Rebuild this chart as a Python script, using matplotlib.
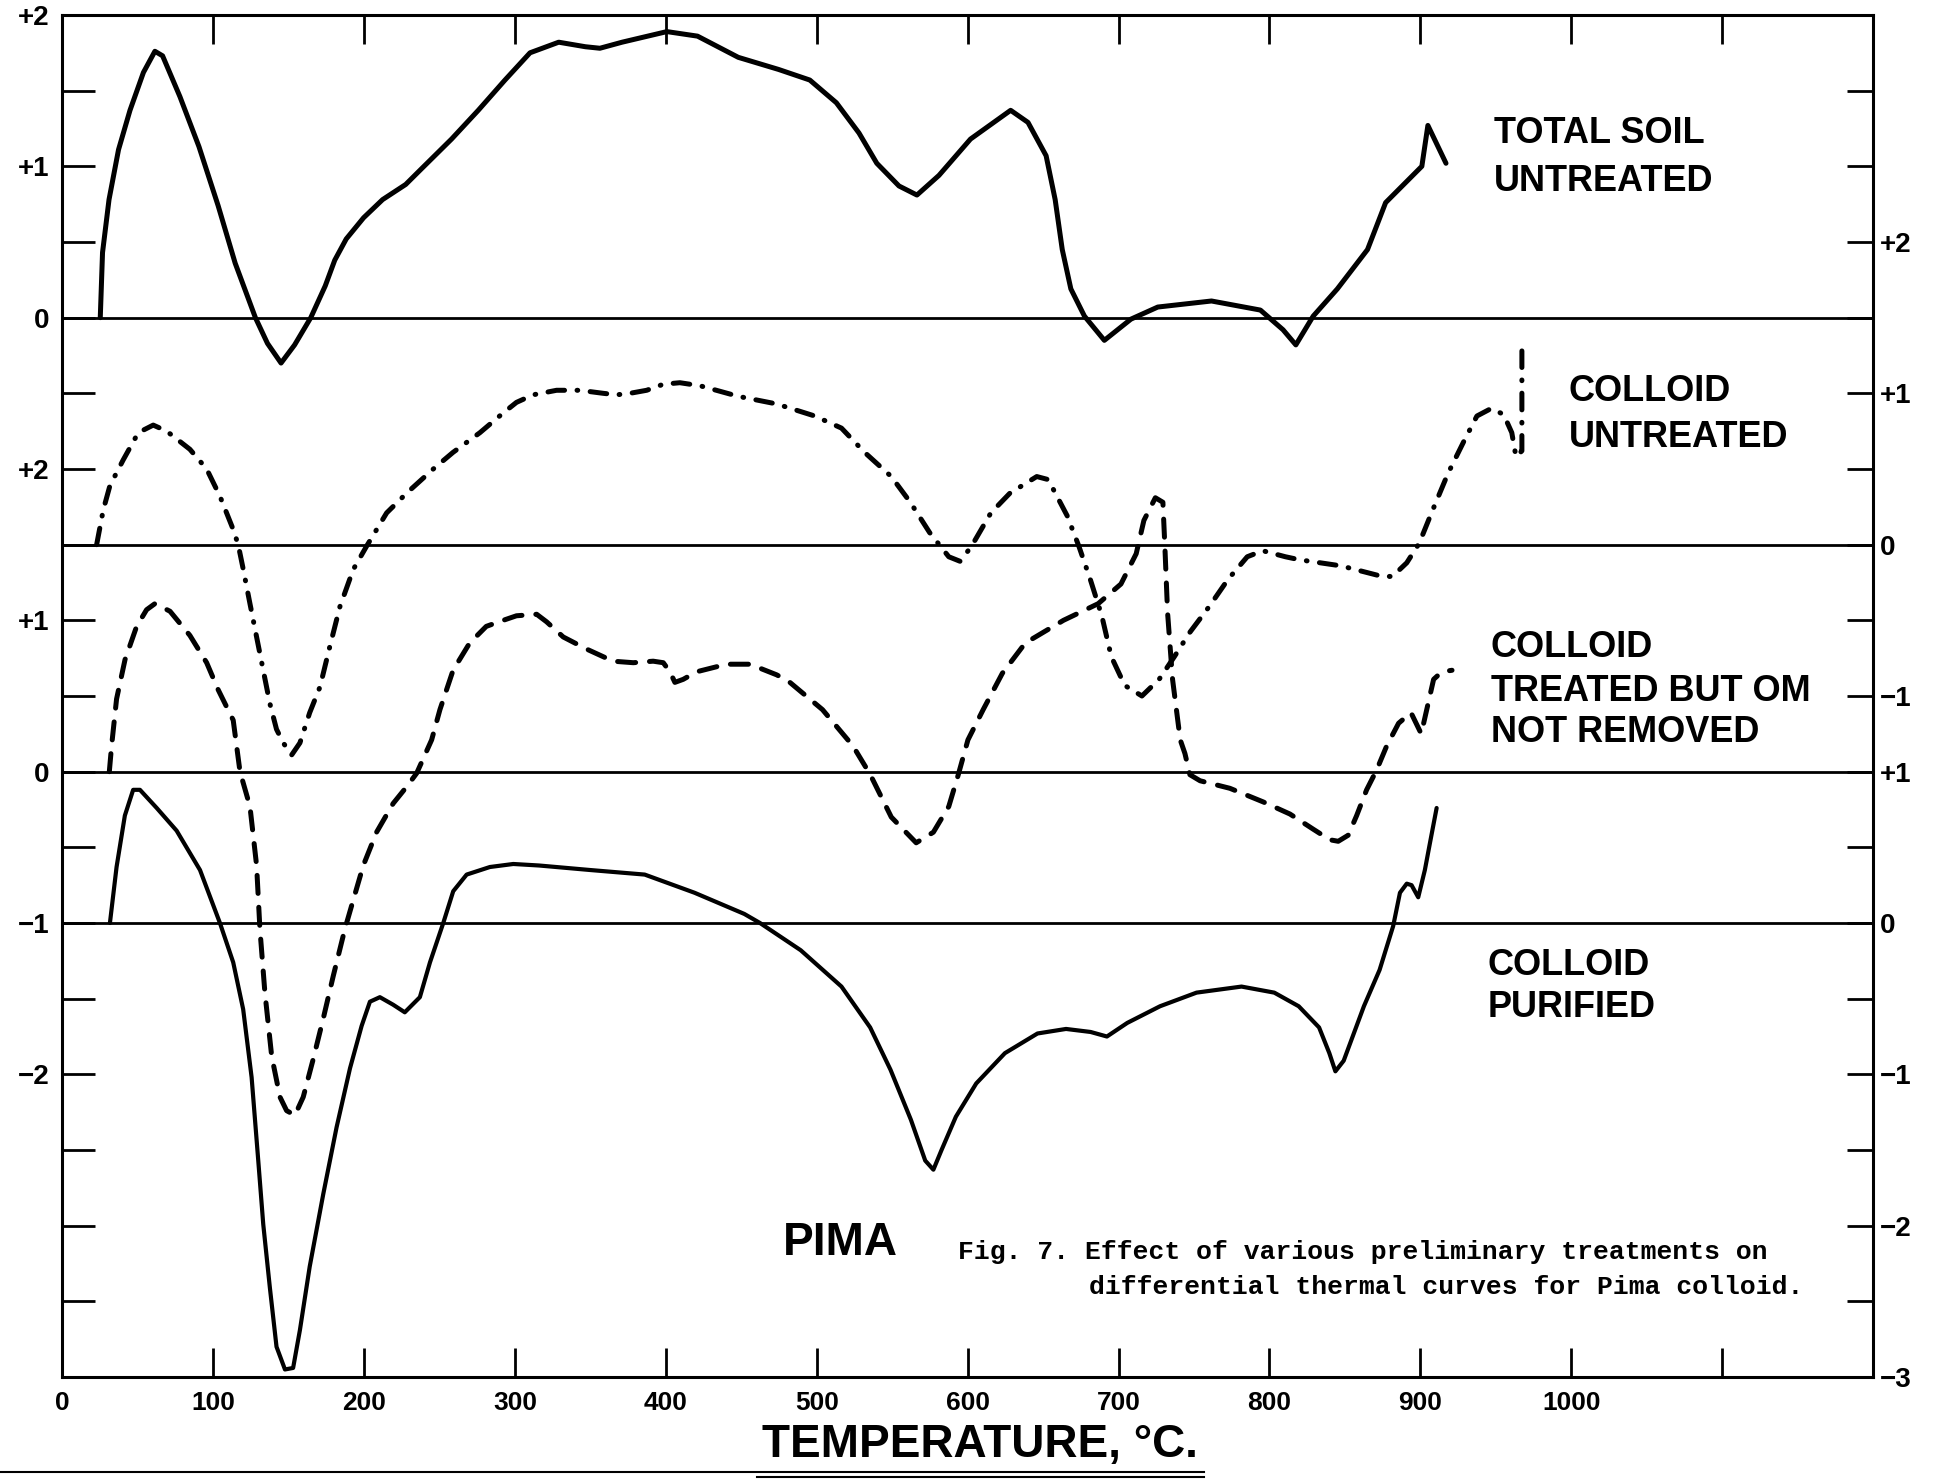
import numpy as np
import matplotlib.pyplot as plt
from matplotlib.lines import Line2D
from matplotlib.ticker import MultipleLocator

plt.rcParams['font.family'] = ['Liberation Sans', 'DejaVu Sans']
plt.rcParams['lines.scale_dashes'] = False

# ------------------------------
# DATA  (temperature in deg C, deflection in the units of each curve's own scale)
# ------------------------------
SOIL_BASE = 7.0     # total soil untreated, left scale
UNTR_BASE = 5.5     # colloid untreated, right scale
TREAT_BASE = 4.0    # colloid treated but OM not removed, left scale
PURE_BASE = 3.0     # colloid purified, right scale

soil_t = [25.2, 26.7, 31, 37.3, 44.9, 53.8, 61.4, 66.5, 78, 90.6, 103.3, 114.6, 128, 136, 145,
          154, 164.7, 174.3, 180.6, 188.2, 199.7, 212.3, 227.6, 237.7, 258, 275.7, 293.4, 310,
          329, 346.7, 356.3, 371, 400.7, 421, 448, 474.7, 495.4, 513, 528, 539.8, 554.5, 566.4,
          581, 601.9, 628.5, 640, 652, 658, 662.7, 668.4, 677.4, 690.6, 708.2, 726, 761.6, 794,
          809, 817.5, 829, 845, 865, 877, 901, 905, 917]
soil_d = [0, 0.43, 0.78, 1.11, 1.37, 1.62, 1.76, 1.73, 1.46, 1.13, 0.74, 0.36, 0, -0.17, -0.30,
          -0.18, 0, 0.21, 0.38, 0.52, 0.66, 0.78, 0.88, 0.98, 1.18, 1.37, 1.57, 1.75,
          1.82, 1.79, 1.78, 1.82, 1.89, 1.86, 1.72, 1.64, 1.57, 1.42, 1.22, 1.02, 0.87, 0.81,
          0.94, 1.18, 1.37, 1.29, 1.07, 0.78, 0.45, 0.19, 0.01, -0.15, -0.01, 0.07, 0.11, 0.05,
          -0.08, -0.18, 0.01, 0.19, 0.45, 0.76, 1.0, 1.27, 1.02]

untr_t = [22.8, 27.2, 31.6, 40.4, 50.4, 60.3, 69.2, 84.6, 95.7, 104.5, 113.3, 116.6, 120, 124.4,
          128.8, 133.2, 137.6, 142, 146.5, 152, 157.5, 164, 170.8, 177.4, 184, 192.8, 201.7, 215,
          228.2, 245.9, 259, 276.8, 292.2, 301, 312, 327.6, 343, 358.5, 367.4, 376.2, 387.3,
          398.3, 409.3, 422.6, 448, 473.3, 498.7, 516.4, 531.7, 549.4, 562, 574.8, 587.5, 595,
          602.6, 615.4, 628, 645.8, 653.4, 666, 673.7, 681.3, 688.9, 695.2, 704.1, 715.5, 726.9,
          737, 747.2, 760, 772.5, 785.3, 795.5, 810.6, 820, 847.4, 874.7, 881.5, 891, 899.3,
          907.4, 918.3, 929.2, 937.5, 947, 955.2, 960.6, 963.4, 967.3, 967.3]
untr_d = [0, 0.23, 0.39, 0.56, 0.74, 0.79, 0.75, 0.63, 0.50, 0.32, 0.10, 0, -0.165, -0.39,
          -0.61, -0.83, -1.05, -1.22, -1.31, -1.39, -1.31, -1.11, -0.94, -0.67, -0.41, -0.165, -0.01, 0.21,
          0.34, 0.50, 0.61, 0.74, 0.87, 0.94, 0.99, 1.02, 1.02, 1.0, 0.99, 1.0, 1.02,
          1.06, 1.07, 1.05, 0.98, 0.93, 0.85, 0.77, 0.61, 0.45, 0.28, 0.08, -0.08, -0.11,
          -0.01, 0.21, 0.34, 0.45, 0.43, 0.19, -0.01, -0.23, -0.47, -0.74, -0.93, -1.0, -0.89,
          -0.74, -0.58, -0.41, -0.23, -0.08, -0.04, -0.08, -0.10, -0.14, -0.21, -0.21, -0.12, 0.01,
          0.21, 0.47, 0.69, 0.85, 0.90, 0.86, 0.74, 0.58, 0.62, 1.28]

treat_t = [31.2, 32.7, 36, 41.6, 49.3, 55.9, 61.4, 71.4, 84.6, 95.7, 103.4, 113.3, 117.8, 124.4,
           128.8, 131, 134.3, 138.8, 144.3, 148.7, 154.2, 159.7, 166.3, 173, 179.6, 187.3, 192.8,
           199.5, 208.3, 219.3, 228.2, 234.9, 244.8, 250.3, 259, 270, 281, 292.2, 301, 314.4, 321,
           332, 347.5, 365, 378.4, 391.6, 398.3, 402.7, 406, 411.5, 420.4, 440.3, 455.7, 473.4,
           481, 503.8, 524, 535.5, 549.4, 565.9, 577.3, 587.5, 593.8, 600.2, 610.3, 623, 638.2,
           663.5, 686.5, 701.6, 711.7, 716.8, 724.4, 729.4, 730.7, 732.5, 735.8, 740.9, 744, 747.3,
           754, 773.8, 795.9, 813.6, 829, 840, 845.6, 852.2, 857.8, 864.4, 871, 877.7, 885.6,
           893.8, 900.6, 904.7, 908.8, 914.3, 921]
treat_d = [0, 0.17, 0.48, 0.74, 0.96, 1.07, 1.11, 1.06, 0.90, 0.72, 0.54, 0.34, 0, -0.23,
           -0.62, -1.04, -1.46, -1.88, -2.15, -2.24, -2.27, -2.15, -1.90, -1.63, -1.35, -1.04, -0.85,
           -0.62, -0.40, -0.21, -0.10, -0.01, 0.21, 0.41, 0.67, 0.85, 0.96, 1.0, 1.03, 1.04, 0.99,
           0.89, 0.81, 0.73, 0.72, 0.73, 0.72, 0.66, 0.59, 0.61, 0.66, 0.71, 0.71, 0.64,
           0.60, 0.41, 0.17, -0.02, -0.30, -0.47, -0.40, -0.23, -0.02, 0.21, 0.41, 0.65, 0.85,
           1.0, 1.11, 1.24, 1.44, 1.66, 1.81, 1.78, 1.49, 1.05, 0.61, 0.21, 0.12, -0.02,
           -0.06, -0.11, -0.20, -0.28, -0.38, -0.45, -0.46, -0.42, -0.29, -0.12, 0.01, 0.17, 0.32,
           0.39, 0.25, 0.43, 0.61, 0.66, 0.67]

pure_t = [31.6, 36, 41.5, 47, 51.5, 62.6, 75.8, 91.3, 104.5, 113.3, 119.9, 125.5, 129.9, 133.2,
          137.6, 142, 147.6, 153, 157.5, 164, 173, 181.8, 190.7, 198.4, 203.9, 210.5, 219.3, 227,
          237, 243.7, 252.5, 259.1, 268, 283.4, 298.9, 316, 350, 386, 419, 452, 462.4, 489.4,
          516.4, 535.4, 548.9, 562.4, 571.9, 577.3, 582.7, 592.2, 605.7, 624.7, 646.3, 665.2,
          681.5, 692.3, 705.8, 727.5, 751.7, 781.5, 803.2, 819.4, 832.9, 839.7, 843.7, 849.2,
          862.6, 873, 882, 886.5, 891, 894.2, 898.6, 903, 906.4, 910.8]
pure_d = [0, 0.37, 0.71, 0.88, 0.88, 0.76, 0.61, 0.35, 0, -0.26, -0.57, -1.02, -1.57, -1.99,
          -2.41, -2.80, -2.95, -2.94, -2.69, -2.27, -1.79, -1.35, -0.96, -0.68, -0.52, -0.49, -0.54, -0.59,
          -0.49, -0.26, 0, 0.21, 0.32, 0.37, 0.39, 0.38, 0.35, 0.32, 0.20, 0.06, 0, -0.18,
          -0.42, -0.69, -0.97, -1.30, -1.57, -1.63, -1.50, -1.28, -1.06, -0.86, -0.73, -0.70,
          -0.72, -0.75, -0.66, -0.55, -0.46, -0.42, -0.46, -0.55, -0.69, -0.86, -0.98, -0.91,
          -0.55, -0.31, -0.02, 0.20, 0.26, 0.25, 0.17, 0.35, 0.53, 0.76]

left_pos = [2, 3, 4, 5, 6, 7, 8, 9]
left_lab = ['\u22122', '\u22121', '0', '+1', '+2', '0', '+1', '+2']
right_pos = [0, 1, 2, 3, 4, 4.5, 5.5, 6.5, 7.5]
right_lab = ['\u22123', '\u22122', '\u22121', '0', '+1', '\u22121', '0', '+1', '+2']
temp_ticks = list(range(0, 1200, 100))
temp_labels = [str(t) for t in range(0, 1001, 100)] + ['']

# ------------------------------
# FIGURE
# ------------------------------
fig = plt.figure(figsize=(19.45, 14.81), dpi=100)
ax = fig.add_axes([0.032, 0.0702, 0.931, 0.9197])
ax.set_xlim(0, 1200)
ax.set_ylim(0, 9)

for s in ax.spines.values():
    s.set_linewidth(2.2)

ax.set_xticks(temp_ticks, temp_labels)
ax.tick_params(axis='x', which='both', direction='in', top=True, length=21,
               width=2, pad=10, labelsize=19)
ax.set_yticks(left_pos, left_lab)
ax.yaxis.set_minor_locator(MultipleLocator(0.5))
ax.tick_params(axis='y', which='both', direction='in', length=24, width=2,
               pad=9, labelsize=20)

ax2 = ax.twinx()
ax2.set_ylim(0, 9)
ax2.set_yticks(right_pos, right_lab)
ax2.yaxis.set_minor_locator(MultipleLocator(0.5))
ax2.tick_params(axis='y', which='both', direction='in', length=19, width=2,
                pad=5, labelsize=20)
for s in ax2.spines.values():
    s.set_visible(False)
for t in ax.get_xticklabels() + ax.get_yticklabels() + ax2.get_yticklabels():
    t.set_fontweight('bold')

# baselines
for b in [SOIL_BASE, UNTR_BASE, TREAT_BASE, PURE_BASE]:
    ax.axhline(b, color='black', lw=2.0)

# curves
ax.plot(soil_t, np.array(soil_d) + SOIL_BASE, color='black', lw=3.6,
        solid_joinstyle='round', solid_capstyle='round')
ax.plot(untr_t, np.array(untr_d) + UNTR_BASE, color='black', lw=3.6,
        linestyle=(0, (12, 9, 0.5, 9)), dash_capstyle='round', dash_joinstyle='round')
ax.plot(treat_t, np.array(treat_d) + TREAT_BASE, color='black', lw=3.6,
        linestyle=(0, (13, 10)), dash_capstyle='round', dash_joinstyle='round')
ax.plot(pure_t, np.array(pure_d) + PURE_BASE, color='black', lw=3.0,
        solid_joinstyle='round', solid_capstyle='round')

# curve labels
lab = dict(fontsize=26, fontweight='bold', va='center', ha='left')
ax.text(948.7, 8.22, 'TOTAL SOIL', **lab)
ax.text(948.7, 7.90, 'UNTREATED', **lab)
ax.text(998.5, 6.51, 'COLLOID', **lab)
ax.text(998.5, 6.21, 'UNTREATED', **lab)
ax.text(946.8, 4.82, 'COLLOID', **lab)
ax.text(946.8, 4.53, 'TREATED BUT OM', **lab)
ax.text(946.8, 4.26, 'NOT REMOVED', **lab)
ax.text(944.8, 2.72, 'COLLOID', **lab)
ax.text(944.8, 2.44, 'PURIFIED', **lab)

ax.text(477.6, 0.886, 'PIMA', fontsize=33, fontweight='bold', va='center', ha='left')
cap = dict(family=['Liberation Mono', 'DejaVu Sans Mono'], weight='bold',
           fontsize=19, va='center', ha='left')
ax.text(593.6, 0.826, 'Fig. 7. Effect of various preliminary treatments on', **cap)
ax.text(680.4, 0.595, 'differential thermal curves for Pima colloid.', **cap)

fig.text(0.504, 0.0243, 'TEMPERATURE, \u00b0C.', ha='center', va='center',
         fontsize=33, fontweight='bold')
fig.add_artist(Line2D([0.0, 0.619], [0.0058, 0.0058], color='black', lw=1.5))
fig.add_artist(Line2D([0.389, 0.619], [0.0030, 0.0030], color='black', lw=1.5))

fig.savefig('out.png', dpi=100, facecolor='white')
